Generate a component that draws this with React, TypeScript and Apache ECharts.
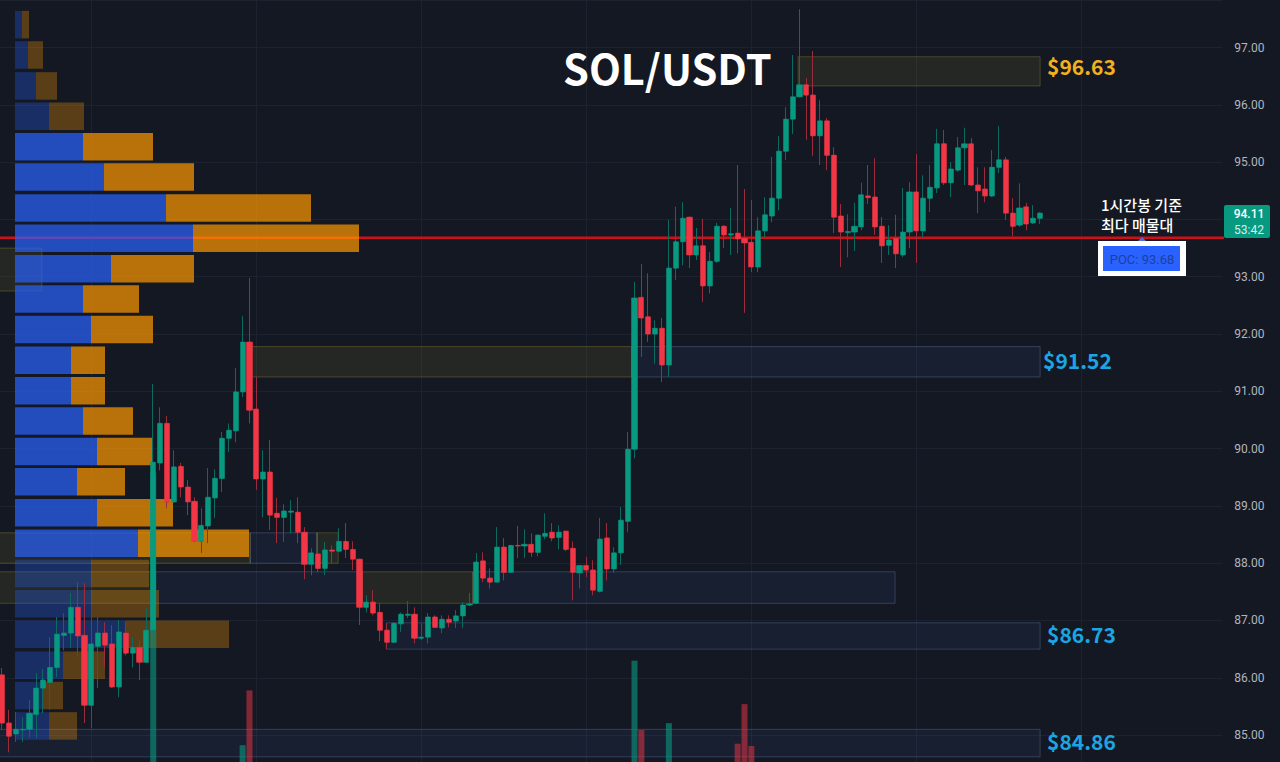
import React, { useEffect, useRef } from 'react';
import * as echarts from 'echarts';

// [open, close, low, high]
const candles = [
  [86.05, 85.21, 85.09, 86.17], [85.21, 84.98, 84.70, 85.44], [85.02, 85.10, 84.88, 85.40], [85.09, 85.10, 84.88, 85.31],
  [85.10, 85.38, 84.96, 85.61], [85.36, 85.82, 84.95, 86.08], [85.82, 85.96, 85.38, 86.15], [85.92, 86.18, 85.44, 86.71],
  [86.18, 86.76, 86.01, 87.06], [86.74, 86.78, 86.48, 87.13], [86.78, 87.23, 86.52, 87.48], [87.23, 86.73, 86.36, 87.67],
  [86.74, 85.52, 85.21, 87.65], [85.52, 86.59, 85.12, 87.06], [86.55, 86.78, 85.82, 87.06], [86.78, 86.57, 86.18, 86.97],
  [86.59, 85.84, 85.82, 86.92], [85.84, 86.80, 85.66, 87.01], [86.78, 86.43, 86.39, 86.97], [86.43, 86.53, 86.18, 86.71],
  [86.53, 86.27, 85.96, 86.66], [86.27, 86.83, 86.27, 87.21], [86.83, 89.76, 86.83, 91.13], [89.75, 90.44, 89.62, 90.72],
  [90.44, 89.07, 88.96, 90.57], [89.07, 89.68, 89.05, 89.97], [89.69, 89.33, 89.15, 89.75], [89.33, 89.07, 88.84, 89.45],
  [89.08, 88.38, 88.37, 89.15], [88.38, 88.66, 88.18, 88.96], [88.65, 89.15, 88.35, 89.66], [89.14, 89.48, 88.79, 89.64],
  [89.48, 90.18, 89.24, 90.29], [90.18, 90.32, 89.94, 90.44], [90.31, 90.99, 90.11, 91.41], [90.99, 91.86, 90.90, 92.31],
  [91.86, 90.67, 90.44, 92.98], [90.69, 89.47, 89.28, 91.25], [89.47, 89.59, 88.80, 89.97], [89.59, 88.84, 88.58, 90.15],
  [88.87, 88.80, 88.35, 89.14], [88.80, 88.91, 88.37, 89.03], [88.89, 88.91, 88.52, 89.10], [88.89, 88.54, 88.35, 89.15],
  [88.54, 87.98, 87.72, 88.63], [87.98, 88.18, 87.79, 88.26], [88.16, 87.91, 87.84, 88.54], [87.91, 88.23, 87.79, 88.37],
  [88.23, 88.21, 88.00, 88.31], [88.21, 88.38, 88.19, 88.61], [88.38, 88.24, 88.09, 88.70], [88.24, 88.07, 87.88, 88.38],
  [88.07, 87.23, 86.92, 88.07], [87.23, 87.32, 87.14, 87.44], [87.32, 87.13, 87.09, 87.53], [87.14, 86.83, 86.64, 87.30],
  [86.83, 86.62, 86.50, 86.95], [86.62, 86.95, 86.60, 86.97], [86.94, 87.11, 86.80, 87.14], [87.09, 87.11, 87.04, 87.34],
  [87.11, 86.69, 86.60, 87.23], [86.69, 86.71, 86.66, 86.95], [86.71, 87.06, 86.60, 87.13], [87.06, 86.88, 86.87, 87.09],
  [86.87, 87.02, 86.78, 87.09], [87.02, 86.97, 86.88, 87.09], [86.99, 87.08, 86.87, 87.18], [87.08, 87.27, 86.87, 87.32],
  [87.27, 87.29, 87.25, 87.48], [87.30, 88.02, 87.30, 88.18], [88.04, 87.74, 87.67, 88.19], [87.74, 87.67, 87.56, 87.91],
  [87.67, 88.28, 87.67, 88.63], [88.28, 87.84, 87.70, 88.44], [87.84, 88.31, 87.84, 88.31], [88.31, 88.30, 88.09, 88.65],
  [88.30, 88.33, 88.09, 88.59], [88.33, 88.19, 88.11, 88.52], [88.19, 88.49, 88.12, 88.49], [88.47, 88.52, 88.42, 88.87],
  [88.54, 88.44, 88.38, 88.70], [88.45, 88.54, 88.24, 88.66], [88.56, 88.24, 88.21, 88.56], [88.26, 87.84, 87.35, 88.38],
  [87.83, 87.96, 87.56, 87.96], [87.96, 87.88, 87.76, 88.11], [87.88, 87.53, 87.44, 88.05], [87.51, 88.42, 87.49, 88.79],
  [88.44, 87.90, 87.70, 88.70], [87.90, 88.18, 87.83, 88.28], [88.18, 88.75, 87.97, 88.98], [88.73, 89.99, 88.54, 90.29],
  [89.99, 92.63, 89.83, 92.91], [92.64, 92.28, 91.60, 93.22], [92.30, 92.00, 91.86, 93.06], [92.00, 92.10, 91.48, 92.24],
  [92.10, 91.46, 91.16, 92.28], [91.46, 93.15, 91.25, 93.99], [93.15, 93.61, 92.94, 94.22], [93.61, 94.02, 93.20, 94.30],
  [94.04, 93.38, 93.15, 94.04], [93.38, 93.54, 93.29, 93.85], [93.54, 92.84, 92.56, 94.01], [92.84, 93.27, 92.71, 93.43],
  [93.27, 93.88, 93.24, 93.94], [93.88, 93.73, 93.50, 93.90], [93.73, 93.75, 93.38, 94.20], [93.76, 93.66, 93.41, 94.95],
  [93.67, 93.59, 92.37, 94.53], [93.60, 93.17, 93.08, 94.34], [93.17, 93.80, 93.08, 94.04], [93.80, 94.08, 93.69, 94.39],
  [94.06, 94.37, 93.95, 95.09], [94.37, 95.19, 94.16, 95.46], [95.19, 95.75, 95.04, 95.96], [95.75, 96.14, 95.49, 96.87],
  [96.14, 96.35, 96.14, 97.67], [96.35, 96.17, 95.39, 96.47], [96.17, 95.46, 95.11, 96.94], [95.46, 95.72, 94.95, 96.08],
  [95.72, 95.12, 94.86, 95.77], [95.12, 94.04, 93.76, 95.26], [94.06, 93.78, 93.17, 94.27], [93.77, 93.79, 93.34, 94.09],
  [93.78, 93.88, 93.45, 94.29], [93.87, 94.43, 93.81, 94.64], [94.41, 94.38, 94.27, 94.95], [94.39, 93.87, 93.73, 95.07],
  [93.88, 93.54, 93.24, 94.04], [93.55, 93.64, 93.38, 93.90], [93.67, 93.40, 93.15, 94.08], [93.38, 93.78, 93.34, 94.55],
  [93.78, 94.48, 93.50, 94.65], [94.48, 93.80, 93.24, 95.14], [93.80, 94.37, 93.69, 94.77], [94.37, 94.56, 94.13, 94.95],
  [94.55, 95.32, 94.46, 95.58], [95.32, 94.64, 94.60, 95.56], [94.64, 94.88, 94.39, 95.00], [94.86, 95.25, 94.83, 95.44],
  [95.25, 95.32, 94.60, 95.60], [95.32, 94.60, 94.58, 95.42], [94.60, 94.50, 94.11, 94.91], [94.53, 94.41, 94.30, 94.91],
  [94.41, 94.91, 94.39, 95.21], [94.91, 95.04, 94.81, 95.63], [95.04, 94.11, 93.99, 95.09], [94.11, 93.88, 93.71, 94.37],
  [93.90, 94.20, 93.87, 94.63], [94.22, 93.92, 93.81, 94.29], [93.94, 94.02, 93.92, 94.25], [94.02, 94.11, 93.92, 94.13],
];

// the bars in the lower pane that still reach into the crop: [bar index, volume]
const volumes = [
  [22, 38], [35, 2.2], [36, 9.4], [92, 13.3], [93, 4.2], [97, 5.1], [107, 2.4], [108, 7.6], [109, 2.1],
];

// volume profile rows: [row top price, buy, sell]
const profile = [
  [97.64, 7, 7], [97.11, 13, 15], [96.57, 21, 21], [96.04, 34, 35], [95.51, 68, 70], [94.98, 89, 90],
  [94.44, 151, 145], [93.91, 178, 166], [93.38, 96, 83], [92.85, 68, 56], [92.32, 76, 62], [91.78, 56, 34],
  [91.25, 56, 34], [90.72, 68, 50], [90.19, 82, 56], [89.66, 62, 48], [89.12, 82, 76], [88.59, 123, 111],
  [88.06, 76, 58], [87.53, 76, 68], [87.00, 110, 104], [86.46, 48, 42], [85.93, 28, 20], [85.40, 34, 28],
];
const valueAreaHigh = 95.6;
const valueAreaLow = 88.2;
const profileRowHeight = 0.48;

// zones: [first bar, last bar, top price, bottom price]
const supplyZones = [
  [115.8, 151, 96.84, 96.33], [36.1, 91.6, 91.78, 91.25], [-0.5, 5.8, 93.5, 92.75], [-0.5, 36.1, 88.53, 88.0],
  [45.8, 48.9, 88.53, 88.0], [-0.5, 22.3, 87.85, 87.3], [52.4, 68.5, 87.85, 87.3],
];
const demandZones = [
  [91.6, 151, 91.78, 91.25], [36.1, 45.8, 88.53, 88.0], [22.3, 52.4, 87.85, 87.3], [68.5, 129.9, 87.85, 87.3],
  [55.9, 151, 86.96, 86.5], [-0.5, 151, 85.1, 84.62],
];

const tickLabels = ['85.00', '86.00', '87.00', '88.00', '89.00', '90.00', '91.00', '92.00', '93.00', '95.00', '96.00', '97.00'];
const pocPrice = 93.68;

const UP = '#089981';
const DOWN = '#F23645';
const BAR_COUNT = 178;
const KR_FONT = '"Noto Sans CJK KR", "Noto Sans", sans-serif';
// the first bar sits partly off the page, and grid.left can't go below 0, so the div starts further left
const SHIFT = 20;

const zoneSeries = (rows: number[][], fill: string, stroke: string) => ({
  type: 'custom',
  xAxisIndex: 1,
  yAxisIndex: 0,
  z: 1,
  silent: true,
  data: rows,
  renderItem: (_: any, api: any) => {
    const a = api.coord([api.value(0), api.value(2)]);
    const b = api.coord([api.value(1), api.value(3)]);
    return {
      type: 'rect',
      shape: { x: a[0], y: a[1], width: b[0] - a[0], height: b[1] - a[1] },
      style: { fill, stroke, lineWidth: 1 },
    };
  },
});

const App: React.FC = () => {
  const chartRef = useRef<HTMLDivElement>(null);

  useEffect(() => {
    if (!chartRef.current) return;
    const chart = echarts.init(chartRef.current, null, { renderer: 'svg' });

    const option = {
      animation: false,
      backgroundColor: '#141823',
      title: {
        text: 'SOL/USDT',
        left: 558 + SHIFT,
        top: 36,
        textStyle: { color: '#ffffff', fontSize: 41.5, fontWeight: 700, fontFamily: KR_FONT, lineHeight: 52 },
      },
      grid: { left: SHIFT - 1.44, right: 57.69, top: 0, bottom: 0 },
      xAxis: [
        {
          type: 'category',
          data: Array.from({ length: BAR_COUNT }, (_, i) => i),
          axisLine: { show: false },
          axisTick: { show: false },
          axisLabel: { show: false },
          splitLine: {
            show: true,
            alignWithLabel: true,
            interval: (i: number) => i % 24 === 13,
            lineStyle: { color: '#1d2230', width: 1 },
          },
        },
        // same span as the bars, but takes fractional bar numbers
        { type: 'value', min: -0.5, max: BAR_COUNT - 0.5, show: false, splitLine: { show: false } },
        // volume profile width
        { type: 'value', min: -16.44, max: 1207.31, show: false, splitLine: { show: false } },
      ],
      yAxis: [
        {
          type: 'value',
          position: 'right',
          min: 84.53,
          max: 97.83,
          splitNumber: 13,
          axisLine: { show: false },
          axisTick: { show: false },
          splitLine: { lineStyle: { color: '#1d2230', width: 1 } },
          axisLabel: {
            margin: 12,
            padding: [4, 0, 0, 0],
            color: '#b2b5be',
            fontSize: 12,
            fontFamily: 'Roboto, sans-serif',
            formatter: (v: number) => (tickLabels.includes(v.toFixed(2)) ? v.toFixed(2) : ''),
          },
        },
        { type: 'value', min: 0, max: 100, show: false, splitLine: { show: false } },
      ],
      series: [
        zoneSeries(demandZones, 'rgba(70,110,200,0.09)', 'rgba(125,150,200,0.3)'),
        zoneSeries(supplyZones, 'rgba(255,235,59,0.07)', 'rgba(255,235,59,0.2)'),
        {
          type: 'custom',
          xAxisIndex: 1,
          yAxisIndex: 0,
          z: 2,
          silent: true,
          data: [[-0.5, 177.75, pocPrice]],
          renderItem: (_: any, api: any) => {
            const a = api.coord([api.value(0), api.value(2)]);
            const b = api.coord([api.value(1), api.value(2)]);
            return {
              type: 'line',
              shape: { x1: a[0], y1: a[1], x2: b[0], y2: b[1] },
              style: { stroke: '#cf101a', lineWidth: 2.5 },
            };
          },
        },
        {
          type: 'custom',
          xAxisIndex: 2,
          yAxisIndex: 0,
          z: 3,
          silent: true,
          data: profile,
          renderItem: (_: any, api: any) => {
            const top = api.value(0);
            const inArea = top <= valueAreaHigh && top >= valueAreaLow;
            const alpha = inArea ? 0.7 : 0.3;
            const o = api.coord([0, top]);
            const m = api.coord([api.value(1), top - profileRowHeight]);
            const e = api.coord([api.value(1) + api.value(2), top - profileRowHeight]);
            return {
              type: 'group',
              children: [
                {
                  type: 'rect',
                  shape: { x: o[0], y: o[1], width: m[0] - o[0], height: m[1] - o[1] },
                  style: { fill: `rgba(41,98,255,${alpha})` },
                },
                {
                  type: 'rect',
                  shape: { x: m[0], y: o[1], width: e[0] - m[0], height: m[1] - o[1] },
                  style: { fill: `rgba(255,152,0,${alpha})` },
                },
              ],
            };
          },
        },
        {
          type: 'bar',
          xAxisIndex: 0,
          yAxisIndex: 1,
          z: 4,
          barWidth: 6,
          silent: true,
          data: volumes.map(([bar, value]) => {
            const up = candles[bar][1] >= candles[bar][0];
            return {
              value: [bar, value],
              itemStyle: { color: up ? 'rgba(8,153,129,0.6)' : 'rgba(242,54,69,0.5)' },
            };
          }),
        },
        // wicks, a bit dimmer than the bodies as in the picture
        {
          type: 'candlestick',
          xAxisIndex: 0,
          yAxisIndex: 0,
          z: 5,
          barWidth: 3,
          silent: true,
          data: candles,
          itemStyle: { color: '#0c6b61', color0: '#9c2c3c', borderColor: '#0c6b61', borderColor0: '#9c2c3c', borderWidth: 1 },
        },
        // bodies
        {
          type: 'candlestick',
          xAxisIndex: 0,
          yAxisIndex: 0,
          z: 6,
          barWidth: 5.6,
          silent: true,
          data: candles.map(([o, c]) => [o, c, Math.min(o, c), Math.max(o, c)]),
          itemStyle: { color: UP, color0: DOWN, borderColor: UP, borderColor0: DOWN, borderWidth: 0.5 },
        },
      ],
      graphic: [
        {
          type: 'group',
          x: SHIFT,
          children: [
            // last price tag
            { type: 'rect', z: 100, shape: { x: 1224, y: 205, width: 46, height: 33, r: 2 }, style: { fill: UP } },
            { type: 'text', z: 101, x: 1249, y: 214, style: { text: '94.11', fill: '#ffffff', fontSize: 12, fontFamily: 'Roboto, sans-serif', fontWeight: 500, align: 'center', verticalAlign: 'middle' } },
            { type: 'text', z: 101, x: 1249, y: 230, style: { text: '53:42', fill: '#d5efe9', fontSize: 12, fontFamily: 'Roboto, sans-serif', align: 'center', verticalAlign: 'middle' } },
            // zone prices
            { type: 'text', z: 100, x: 1047, y: 66, style: { text: '$96.63', fill: '#f2b01e', fontSize: 21, fontWeight: 600, fontFamily: KR_FONT, verticalAlign: 'middle' } },
            { type: 'text', z: 100, x: 1043, y: 360, style: { text: '$91.52', fill: '#1ba6e3', fontSize: 21, fontWeight: 600, fontFamily: KR_FONT, verticalAlign: 'middle' } },
            { type: 'text', z: 100, x: 1047, y: 634, style: { text: '$86.73', fill: '#1ba6e3', fontSize: 21, fontWeight: 600, fontFamily: KR_FONT, verticalAlign: 'middle' } },
            { type: 'text', z: 100, x: 1047, y: 741, style: { text: '$84.86', fill: '#1ba6e3', fontSize: 21, fontWeight: 600, fontFamily: KR_FONT, verticalAlign: 'middle' } },
            // POC note
            { type: 'text', z: 100, x: 1101, y: 204, style: { text: '1시간봉 기준', fill: '#ffffff', fontSize: 15, fontWeight: 500, fontFamily: KR_FONT, verticalAlign: 'middle' } },
            { type: 'text', z: 100, x: 1101, y: 224, style: { text: '최다 매물대', fill: '#ffffff', fontSize: 15, fontWeight: 500, fontFamily: KR_FONT, verticalAlign: 'middle' } },
            { type: 'polygon', z: 100, shape: { points: [[1138, 241], [1142, 237], [1146, 241]] }, style: { fill: '#4a6fd8' } },
            { type: 'rect', z: 100, shape: { x: 1098, y: 241, width: 88, height: 35 }, style: { fill: '#ffffff' } },
            { type: 'rect', z: 101, shape: { x: 1103, y: 246, width: 77, height: 25 }, style: { fill: '#2962ff' } },
            { type: 'text', z: 102, x: 1142, y: 259, style: { text: 'POC: 93.68', fill: '#1d3f9f', fontSize: 13, fontFamily: 'Roboto, sans-serif', align: 'center', verticalAlign: 'middle' } },
          ],
        },
      ],
    };

    chart.setOption(option);

    return () => {
      chart.dispose();
    };
  }, []);

  return <div ref={chartRef} style={{ position: 'fixed', left: -SHIFT, top: 0, width: 1280 + SHIFT, height: 762 }} />;
};

export default App;
